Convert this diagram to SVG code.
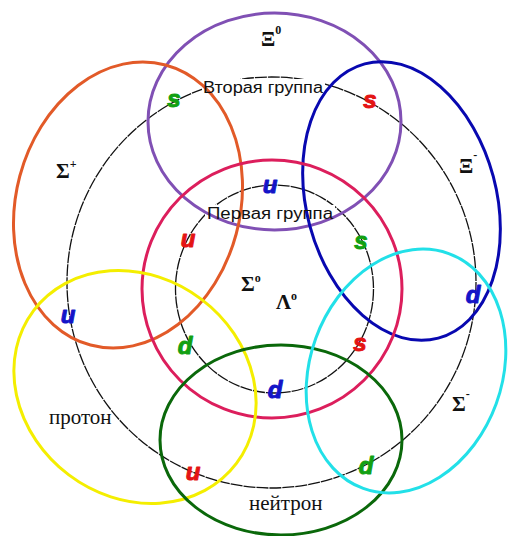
<svg xmlns="http://www.w3.org/2000/svg" width="511" height="536" viewBox="0 0 511 536">
<style>
.blk{fill:none;stroke:#111;stroke-width:1.3;stroke-dasharray:12 1}
.ov{fill:none;stroke-width:3}
.grp{font-family:"Liberation Sans",Arial,sans-serif;font-size:16px;fill:#111}
.gr{font-family:"Liberation Serif","Times New Roman",serif;font-weight:bold;font-size:21px;fill:#111}
.sup{font-size:12px}
.nm{font-family:"Liberation Serif","Times New Roman",serif;font-size:21px;fill:#111}
.q{font-family:"Liberation Sans",Arial,sans-serif;font-weight:bold;font-style:italic;font-size:24px;text-anchor:middle;stroke-width:1;stroke-linejoin:round}
.qg{fill:#12a012;stroke:#12a012}.qr{fill:#e41414;stroke:#e41414}.qb{fill:#1414c8;stroke:#1414c8}
</style>
<rect width="511" height="536" fill="#fff"/>
<g id="connectors">
<ellipse id="outer-ring" class="blk" cx="271.5" cy="282.5" rx="204.5" ry="205.5"/>
<ellipse id="inner-ring" class="blk" cx="274.5" cy="289" rx="99" ry="104"/>
</g>
<g id="group-labels-bg">
<rect x="202" y="79" width="123" height="18" fill="#fff"/>
<rect x="205" y="205" width="130" height="19" fill="#fff"/>
</g>
<g id="xi0"><ellipse class="ov" stroke="#8050b4" cx="274.5" cy="121.5" rx="126.5" ry="108.5"/>
<text class="gr" x="261" y="46">Ξ<tspan class="sup" dy="-12">0</tspan></text></g>
<g id="sigma-plus"><ellipse class="ov" stroke="#e25a28" cx="128" cy="205" rx="112" ry="145" transform="rotate(15 128 205)"/>
<text class="gr" x="56" y="178">Σ<tspan class="sup" dy="-10">+</tspan></text></g>
<g id="xi-minus"><ellipse class="ov" stroke="#0808b0" cx="401.5" cy="201" rx="95" ry="142" transform="rotate(-15 401.5 201)"/>
<text class="gr" x="459" y="173">Ξ<tspan class="sup" dy="-14">-</tspan></text></g>
<g id="center"><ellipse class="ov" stroke="#dc1e5c" cx="272" cy="289" rx="130" ry="129"/>
<text class="gr" x="241" y="291">Σ<tspan class="sup" dy="-9">o</tspan></text>
<text class="gr" x="276" y="309">Λ<tspan class="sup" dy="-9">o</tspan></text></g>
<g id="proton"><ellipse class="ov" stroke="#f4ee00" cx="135" cy="387" rx="127" ry="110" transform="rotate(37 135 387)"/>
<text class="nm" x="49" y="424">протон</text></g>
<g id="neutron"><ellipse class="ov" stroke="#0a680a" cx="281" cy="440" rx="121" ry="95"/>
<text class="nm" x="249" y="510">нейтрон</text></g>
<g id="sigma-minus"><ellipse class="ov" stroke="#22e0e8" cx="406" cy="371" rx="96" ry="125" transform="rotate(20 406 371)"/>
<text class="gr" x="452" y="411">Σ<tspan class="sup" dy="-13">-</tspan></text></g>
<g id="group-labels">
<text class="grp" x="203" y="93" textLength="120" lengthAdjust="spacingAndGlyphs">Вторая группа</text>
<text class="grp" x="207" y="219" textLength="126" lengthAdjust="spacingAndGlyphs">Первая группа</text>
</g>
<g id="quarks">
<text class="q qg" x="174" y="107">s</text>
<text class="q qr" x="370" y="108">s</text>
<text class="q qb" x="270" y="193">u</text>
<text class="q qr" x="188" y="247">u</text>
<text class="q qg" x="361" y="249">s</text>
<text class="q qb" x="68" y="323">u</text>
<text class="q qg" x="185" y="354">d</text>
<text class="q qr" x="193" y="480">u</text>
<text class="q qb" x="473" y="303">d</text>
<text class="q qr" x="360" y="351">s</text>
<text class="q qb" x="275" y="398">d</text>
<text class="q qg" x="366" y="474">d</text>
</g>
</svg>
